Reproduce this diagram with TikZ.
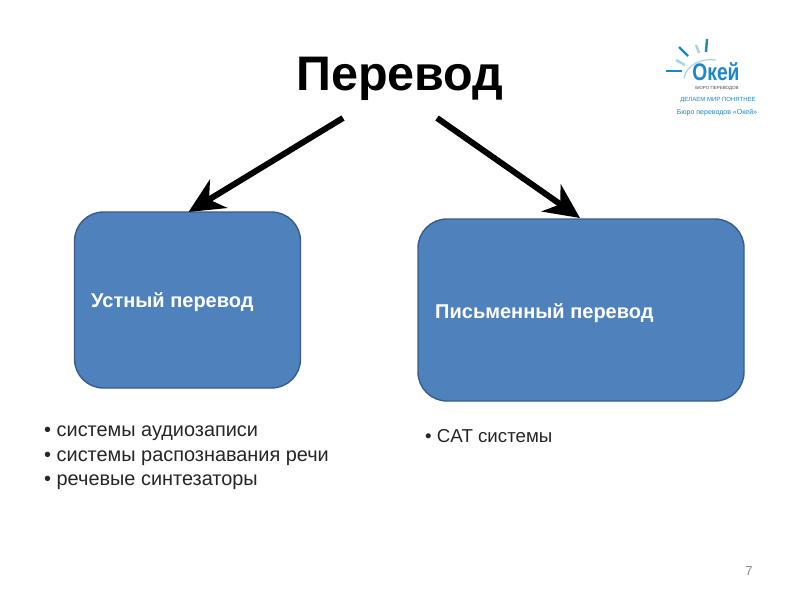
\documentclass[tikz,border=0pt]{standalone}
\usepackage{fontspec}
\setmainfont{Liberation Sans}
\usetikzlibrary{arrows.meta}
\definecolor{boxfill}{HTML}{4F81BD}
\definecolor{boxline}{HTML}{385D8A}
\definecolor{logoblue}{HTML}{1B87C9}
\definecolor{logolight}{HTML}{A9D3EA}
\definecolor{numgray}{HTML}{8B8B8B}
\tikzset{
  x=1pt,y=-1pt,
  bluebox/.style={draw=boxline,line width=1.4pt,fill=boxfill,rounded corners=29pt,inner sep=0pt,minimum width=#1},
  boxlabel/.style={text=white,font=\fontsize{20}{24}\selectfont\bfseries,anchor=west,inner sep=0pt},
  bullets/.style={anchor=north west,align=left,inner sep=0pt,text=black!85,font=\fontsize{19.9}{24.5}\selectfont},
  bigarrow/.style={draw=black,line width=6pt,-{Stealth[length=35pt,width=33pt,inset=11pt]}},
  ray/.style={draw=logoblue,line width=2.4pt},
  rayl/.style={draw=logolight,line width=2.4pt},
}
\begin{document}
\begin{tikzpicture}
\useasboundingbox (0,0) rectangle (800,600);
\fill[white] (0,0) rectangle (800,600);
\node[font=\fontsize{48.5}{56}\selectfont\bfseries,text=black,inner sep=0pt] (title) at (400,79) {Перевод};
\node[bluebox=226pt,minimum height=176pt] (oral) at (187.5,300) {};
\node[bluebox=326pt,minimum height=182pt] (written) at (581,310) {};
\node[boxlabel] (orallabel) at (91,302) {Устный перевод};
\node[boxlabel] (writtenlabel) at (435,313) {Письменный перевод};
\coordinate (s1) at (343,118);
\coordinate (s2) at (437,118);
\coordinate (e1) at (188.5,212);
\coordinate (e2) at (580,218);
\draw[bigarrow] (s1) -- (e1);
\draw[bigarrow] (s2) -- (e2);
\node[bullets] (list1) at (44,426) {• системы аудиозаписи\\• системы распознавания речи\\• речевые синтезаторы};
\node[bullets,font=\fontsize{18.7}{24.5}\selectfont] (list2) at (425,429) {• CAT системы};
\node[text=numgray,font=\fontsize{13}{16}\selectfont,inner sep=0pt] (pagenum) at (749,571) {7};
% logo
\draw[ray] (666,71) -- (682,71);
\draw[ray] (679,47) -- (688,56);
\draw[ray] (707,39) -- (706,52);
\draw[rayl] (676,60) -- (685,65);
\draw[rayl] (696,45) -- (699,53);
\draw[logolight,line width=1.2pt] (684,78) .. controls (687,64) and (702,58) .. (716,60);
\node[text=logoblue,font=\fontsize{24}{26}\selectfont\bfseries,inner sep=0pt,xscale=.8] (okey) at (716,72) {Окей};
\node[text=black!70,font=\fontsize{4.5}{6}\selectfont,inner sep=0pt] (buro) at (717,88) {БЮРО ПЕРЕВОДОВ};
\node[text=logoblue,font=\fontsize{6}{8}\selectfont,inner sep=0pt] (motto) at (718,100) {ДЕЛАЕМ МИР ПОНЯТНЕЕ};
\node[text=logoblue,font=\fontsize{7}{9}\selectfont,inner sep=0pt] (bureau) at (717,113) {Бюро переводов «Окей»};
\end{tikzpicture}
\end{document}
